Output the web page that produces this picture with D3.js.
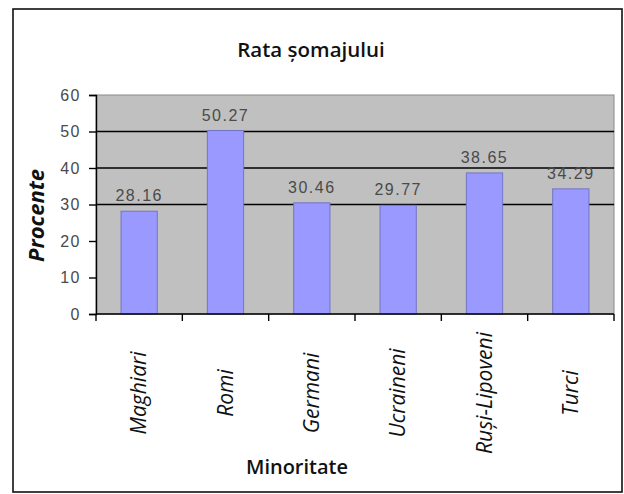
<!DOCTYPE html>
<html lang="ro">
<meta charset="utf-8">
<style>
  body{ margin:0; background:#fff }
  .num{ font-family:"Liberation Sans", Arial, sans-serif; font-size:16px; fill:#4a4a4a; letter-spacing:1.5px }
  .cal{ font-family:"Open Sans", "Noto Sans", sans-serif; fill:#111 }
</style>
<body>
<script src="https://cdn.jsdelivr.net/npm/d3@7"></script>
<script>
  var categories = ['Maghiari', 'Romi', 'Germani', 'Ucraineni', 'Ruși-Lipoveni', 'Turci']
  var values = [28.16, 50.27, 30.46, 29.77, 38.65, 34.29]
  var yTicks = [0, 10, 20, 30, 40, 50, 60]
  var gridValues = [30, 40, 50]

  var svg = d3.select('body').append('svg').attr('width', 624).attr('height', 494)

  // outer frame
  svg.append('rect').attr('x', 13).attr('y', 9).attr('width', 609).attr('height', 483)
    .attr('fill', '#fff').attr('stroke', '#111').attr('stroke-width', 1.6)

  var x = d3.scaleBand().domain(categories).range([96, 614]).paddingInner(0.58).paddingOuter(0.29)
  var xb = d3.scaleBand().domain(categories).range([96, 614]).padding(0)
  var y = d3.scaleLinear().domain([0, 60]).range([314, 95])

  // plot area
  svg.append('rect').attr('x', 96).attr('y', y(60)).attr('width', 518).attr('height', y(0) - y(60))
    .attr('fill', '#c0c0c0').attr('stroke', '#8a8a8a').attr('stroke-width', 1)

  svg.selectAll('.grid').data(gridValues).enter().append('line')
    .attr('x1', 96).attr('x2', 614)
    .attr('y1', d => y(d)).attr('y2', d => y(d))
    .attr('stroke', '#000').attr('stroke-width', 1.3)

  svg.selectAll('.bar').data(values).enter().append('rect')
    .attr('x', (d, i) => x(categories[i]))
    .attr('width', x.bandwidth())
    .attr('y', d => y(d))
    .attr('height', d => y(0) - y(d))
    .attr('fill', '#9999ff').attr('stroke', '#7474c4').attr('stroke-width', 1)

  svg.selectAll('.val').data(values).enter().append('text').attr('class', 'num')
    .attr('x', (d, i) => x(categories[i]) + x.bandwidth() / 2)
    .attr('y', d => y(d) - 10)
    .attr('text-anchor', 'middle')
    .text(d => d3.format('.2f')(d))

  // y axis
  var yAxis = svg.append('g').attr('transform', 'translate(96,0)')
    .call(d3.axisLeft(y).tickValues(yTicks).tickSize(7).tickPadding(8))
  yAxis.select('.domain').attr('stroke', '#000').attr('stroke-width', 1.4)
  yAxis.selectAll('.tick line').attr('stroke', '#000').attr('stroke-width', 1.4)
  yAxis.selectAll('.tick text').attr('class', 'num').attr('font-family', null).attr('font-size', null)

  // x axis: ticks at category boundaries
  var bounds = categories.map(c => xb(c)).concat([614])
  svg.append('line').attr('x1', 96).attr('x2', 614).attr('y1', y(0)).attr('y2', y(0))
    .attr('stroke', '#000').attr('stroke-width', 1.4)
  svg.selectAll('.xt').data(bounds).enter().append('line')
    .attr('x1', d => d).attr('x2', d => d)
    .attr('y1', y(0)).attr('y2', y(0) + 7)
    .attr('stroke', '#000').attr('stroke-width', 1.4)

  svg.selectAll('.xl').data(categories).enter().append('text').attr('class', 'cal')
    .attr('transform', d => 'translate(' + (x(d) + x.bandwidth() / 2 + 7) + ',393) rotate(-90)')
    .attr('text-anchor', 'middle')
    .style('font-size', '21px').style('font-style', 'italic')
    .text(d => d)

  svg.append('text').attr('class', 'cal').attr('x', 311).attr('y', 57)
    .attr('text-anchor', 'middle').style('font-size', '20.5px').style('font-weight', 600)
    .text('Rata șomajului')

  svg.append('text').attr('class', 'cal').attr('x', 297).attr('y', 474)
    .attr('text-anchor', 'middle').style('font-size', '20px').style('font-weight', 600)
    .text('Minoritate')

  svg.append('text').attr('class', 'cal')
    .attr('transform', 'translate(44,' + (y(27)) + ') rotate(-90)')
    .attr('text-anchor', 'middle').style('font-size', '22px').style('font-weight', 700).style('font-style', 'italic')
    .text('Procente')
</script>
</body>
</html>
